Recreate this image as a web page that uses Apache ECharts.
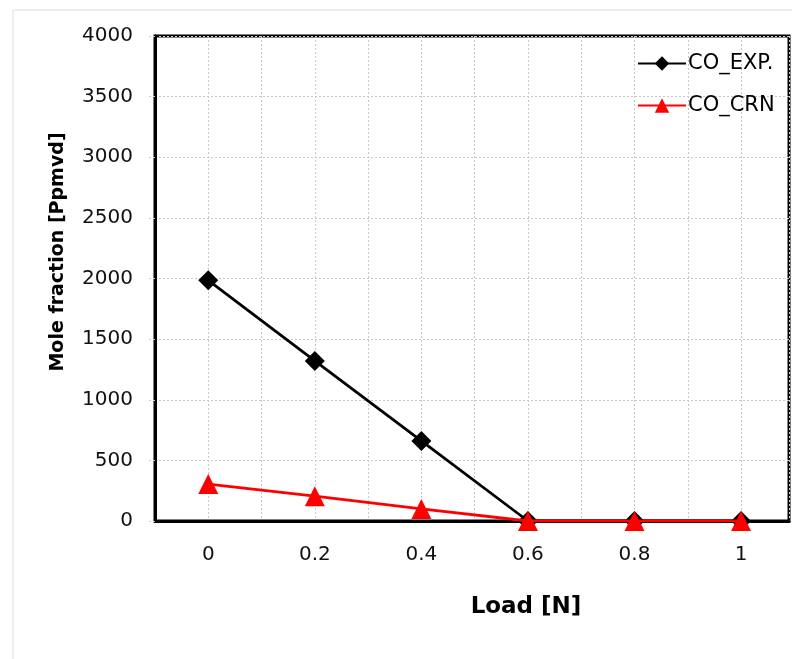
<!DOCTYPE html>
<html>
<head>
<meta charset="utf-8">
<script src="https://cdn.jsdelivr.net/npm/echarts@6/dist/echarts.min.js"></script>
<style>html,body{margin:0;padding:0;background:#fff;}#c{width:792px;height:659px;}</style>
</head>
<body>
<div id="c"></div>
<script>
const loads = [0, 0.2, 0.4, 0.6, 0.8, 1];
const coExp = [1985, 1320, 660, 0, 0, 0];
const coCrn = [305, 205, 100, 0, 0, 0];
const xTickLabels = ['0', '0.2', '0.4', '0.6', '0.8', '1'];

const chart = echarts.init(document.getElementById('c'));
const font = 'DejaVu Sans';
chart.setOption({
  backgroundColor: '#fff',
  animation: false,
  grid: {left: 155, right: 3, top: 36, bottom: 138, show: true, borderColor: '#000', borderWidth: 3, backgroundColor: 'transparent'},
  graphic: [
    {type: 'rect', shape: {x: 13, y: 10, width: 820, height: 700}, style: {fill: 'none', stroke: '#dcdcdc', lineWidth: 1}, silent: true, z: -10},
    {type: 'text', x: 58, y: 252, rotation: Math.PI / 2,
      style: {text: 'Mole fraction [Ppmvd]', font: 'bold 19px "DejaVu Sans"', fill: '#000', align: 'center', verticalAlign: 'middle'}},
    {type: 'text', x: 526, y: 607,
      style: {text: 'Load [N]', font: 'bold 23px "DejaVu Sans"', fill: '#000', align: 'center', verticalAlign: 'middle'}}
  ],
  legend: {
    orient: 'vertical', left: 632, top: 48, itemWidth: 48, itemHeight: 18, itemGap: 21,
    textStyle: {fontFamily: font, fontSize: 21, color: '#000', padding: [0, 0, 0, -3]},
    data: ['CO_EXP.', 'CO_CRN']
  },
  xAxis: {
    type: 'value', min: -0.1, max: 1.09, interval: 0.1,
    axisLine: {show: true, onZero: false, lineStyle: {color: '#000', width: 3}},
    axisTick: {show: false},
    splitLine: {show: true, lineStyle: {color: '#c8c8c8', type: [2, 2], width: 1}},
    axisLabel: {
      margin: 24, fontFamily: font, fontSize: 20, color: '#111',
      formatter: function (v) {
        const k = Math.round(v * 10);
        if (k < 0 || k > 10 || k % 2 !== 0 || Math.abs(v * 10 - k) > 0.01) return '';
        return xTickLabels[k / 2];
      }
    }
  },
  yAxis: {
    type: 'value', min: 0, max: 4000, interval: 500,
    axisLine: {show: true, onZero: false, lineStyle: {color: '#000', width: 3}},
    axisTick: {show: true, length: 8, lineStyle: {color: '#c8c8c8', type: [2, 2]}},
    splitLine: {show: true, lineStyle: {color: '#c8c8c8', type: [2, 2], width: 1}},
    axisLabel: {margin: 22, fontFamily: font, fontSize: 20, color: '#111', formatter: function (v) { return String(v); }}
  },
  series: [
    {name: 'CO_EXP.', type: 'line', data: loads.map((x, i) => [x, coExp[i]]),
      symbol: 'diamond', symbolSize: 20, lineStyle: {color: '#000', width: 2.8},
      itemStyle: {color: '#000'}, z: 3},
    {name: 'CO_CRN', type: 'line', data: loads.map((x, i) => [x, coCrn[i]]),
      symbol: 'triangle', symbolSize: 20, lineStyle: {color: '#ff0000', width: 2.8},
      itemStyle: {color: '#ff0000'}, z: 4}
  ]
});
</script>
</body>
</html>
